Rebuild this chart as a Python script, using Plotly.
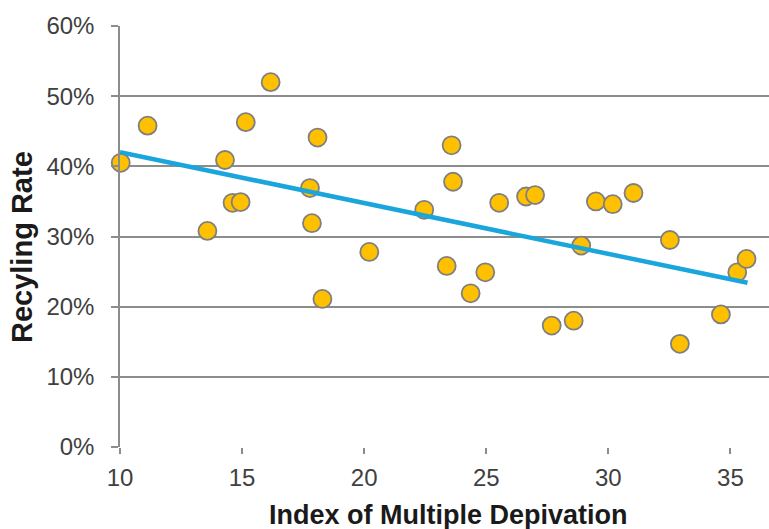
import plotly.graph_objects as go

deprivation = [10.03, 11.13, 13.58, 14.30, 14.61, 14.94, 15.15, 16.17, 17.78, 17.86, 18.09,
               18.29, 20.21, 22.46, 23.38, 23.58, 23.64, 24.36, 24.96, 25.53, 26.63, 27.00,
               27.68, 28.58, 28.89, 29.49, 30.18, 31.03, 32.52, 32.93, 34.61, 35.28, 35.66]
recycling = [0.405, 0.458, 0.308, 0.409, 0.348, 0.349, 0.463, 0.520, 0.369, 0.319, 0.441,
             0.211, 0.278, 0.338, 0.258, 0.430, 0.378, 0.219, 0.249, 0.348, 0.357, 0.359,
             0.173, 0.180, 0.287, 0.350, 0.346, 0.362, 0.295, 0.147, 0.189, 0.249, 0.268]

trend_x = [10.0, 35.7]
trend_y = [0.420, 0.234]

x_ticks = [10, 15, 20, 25, 30, 35]
y_ticks = [0, 0.1, 0.2, 0.3, 0.4, 0.5, 0.6]

fig = go.Figure()
fig.add_trace(go.Scatter(
    x=deprivation, y=recycling, mode="markers",
    marker=dict(size=18, color="#FFC000", line=dict(color="#7F7F7F", width=1.8)),
    showlegend=False, cliponaxis=False))
fig.add_trace(go.Scatter(
    x=trend_x, y=trend_y, mode="lines",
    line=dict(color="#1AA6DC", width=4.5),
    showlegend=False))

tick_font = dict(family="Liberation Sans, Arial, sans-serif", size=24, color="#404040")
title_family = "Liberation Sans, Arial, sans-serif"

fig.update_layout(
    width=769, height=529,
    margin=dict(l=120, r=0, t=26, b=82),
    plot_bgcolor="white", paper_bgcolor="white",
    xaxis=dict(range=[10, 36.58], tickvals=x_ticks, showgrid=False, zeroline=False,
               showline=False, ticks="outside", ticklen=6, tickcolor="#8c8c8c", tickwidth=1.5,
               tickfont=tick_font, ticklabelstandoff=3),
    yaxis=dict(range=[0, 0.6], tickvals=y_ticks, tickformat=".0%", showgrid=True,
               gridcolor="#8c8c8c", gridwidth=1.5, zeroline=False,
               showline=True, linecolor="#8c8c8c", linewidth=1.5,
               ticks="outside", ticklen=7, tickcolor="#8c8c8c", tickwidth=1.5,
               tickfont=tick_font, ticklabelstandoff=12),
    annotations=[
        dict(text="<b>Recyling Rate</b>", textangle=-90, showarrow=False,
             xref="paper", yref="paper", x=0, y=0.475, xanchor="center", yanchor="middle",
             xshift=-98, font=dict(family=title_family, size=29, color="#1a1a1a")),
        dict(text="<b>Index of Multiple Depivation</b>", showarrow=False,
             xref="paper", yref="paper", x=0.5, y=0, xanchor="center", yanchor="middle",
             xshift=4, yshift=-68, font=dict(family=title_family, size=27, color="#1a1a1a")),
    ],
)

fig.write_html("out.html")
